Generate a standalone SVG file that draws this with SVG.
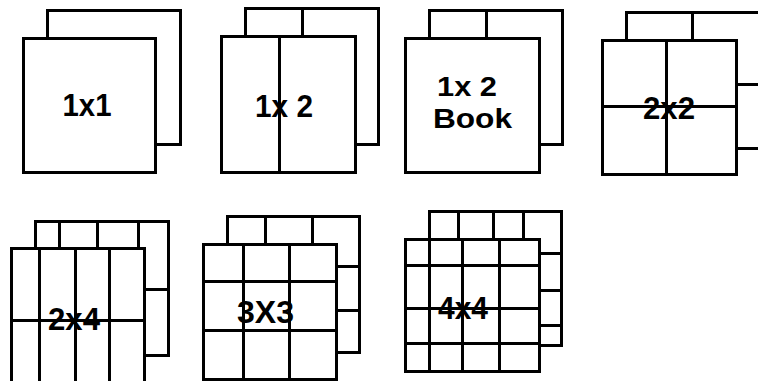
<svg xmlns="http://www.w3.org/2000/svg" width="758" height="381" viewBox="0 0 758 381">
<style>
.p{fill:#fff;stroke:#000;stroke-width:3}
.g{stroke:#000;stroke-width:3;fill:none}
.t{font-family:"Liberation Sans",Arial,sans-serif;font-size:30.5px;font-weight:bold;fill:#000;text-anchor:middle}
.s{font-size:28px}
</style>
<rect width="758" height="381" fill="#fff"/>
<g id="n1x1">
<rect class="p" x="47.5" y="10.5" width="133" height="134"/>
<rect class="p" x="23.5" y="38.5" width="132" height="134"/>
<text class="t" x="87" y="115.5" textLength="49" lengthAdjust="spacingAndGlyphs">1x1</text>
</g>
<g id="n1x2">
<rect class="p" x="245.5" y="8.5" width="133" height="136"/>
<rect class="p" x="221.5" y="36.5" width="134" height="136"/>
<path class="g" d="M302.5 8.5V36.5M279.5 36.5V172.5"/>
<text class="t" x="284" y="117" textLength="58" lengthAdjust="spacingAndGlyphs">1x 2</text>
</g>
<g id="n1x2book">
<rect class="p" x="429.5" y="10.5" width="133" height="134"/>
<rect class="p" x="405.5" y="38.5" width="134" height="134"/>
<path class="g" d="M486.5 10.5V38.5"/>
<text class="t s" x="467" y="96" textLength="60" lengthAdjust="spacingAndGlyphs">1x 2</text>
<text class="t s" x="472.5" y="128" textLength="79" lengthAdjust="spacingAndGlyphs">Book</text>
</g>
<g id="n2x2">
<rect class="p" x="626.5" y="12.5" width="140" height="136"/>
<rect class="p" x="602.5" y="40.5" width="134" height="134"/>
<path class="g" d="M692.5 12.5V40.5M736.5 84.5H766M666.5 40.5V174.5M602.5 106.5H736.5"/>
<text class="t" x="669" y="119" textLength="52" lengthAdjust="spacingAndGlyphs">2x2</text>
</g>
<g id="n2x4">
<rect class="p" x="35.5" y="221.5" width="133" height="134"/>
<rect class="p" x="11.5" y="248.5" width="133" height="140"/>
<path class="g" d="M59.5 221.5V248.5M97.5 221.5V248.5M138.5 221.5V248.5M144.5 289.5H168.5M39.5 248.5V390M75.5 248.5V390M109.5 248.5V390M11.5 320.5H144.5"/>
<text class="t" x="74" y="330" textLength="52" lengthAdjust="spacingAndGlyphs">2x4</text>
</g>
<g id="n3x3">
<rect class="p" x="227.5" y="216.5" width="132" height="136"/>
<rect class="p" x="203.5" y="244.5" width="133" height="135"/>
<path class="g" d="M265.5 216.5V244.5M312.5 216.5V244.5M336.5 266.5H359.5M336.5 310.5H359.5M243.5 244.5V379.5M289.5 244.5V379.5M203.5 281.5H336.5M203.5 330.5H336.5"/>
<text class="t" x="265.5" y="323" textLength="57" lengthAdjust="spacingAndGlyphs">3X3</text>
</g>
<g id="n4x4">
<rect class="p" x="429.5" y="211.5" width="132" height="134"/>
<rect class="p" x="405.5" y="239.5" width="134" height="132"/>
<path class="g" d="M458.5 211.5V239.5M493.5 211.5V239.5M523.5 211.5V239.5M539.5 253.5H561.5M539.5 290.5H561.5M539.5 325.5H561.5M429.5 239.5V371.5M462.5 239.5V371.5M499.5 239.5V371.5M405.5 265.5H539.5M405.5 308.5H539.5M405.5 343.5H539.5"/>
<text class="t" x="463" y="319" textLength="50" lengthAdjust="spacingAndGlyphs">4x4</text>
</g>
<g id="connectors"/>
</svg>
